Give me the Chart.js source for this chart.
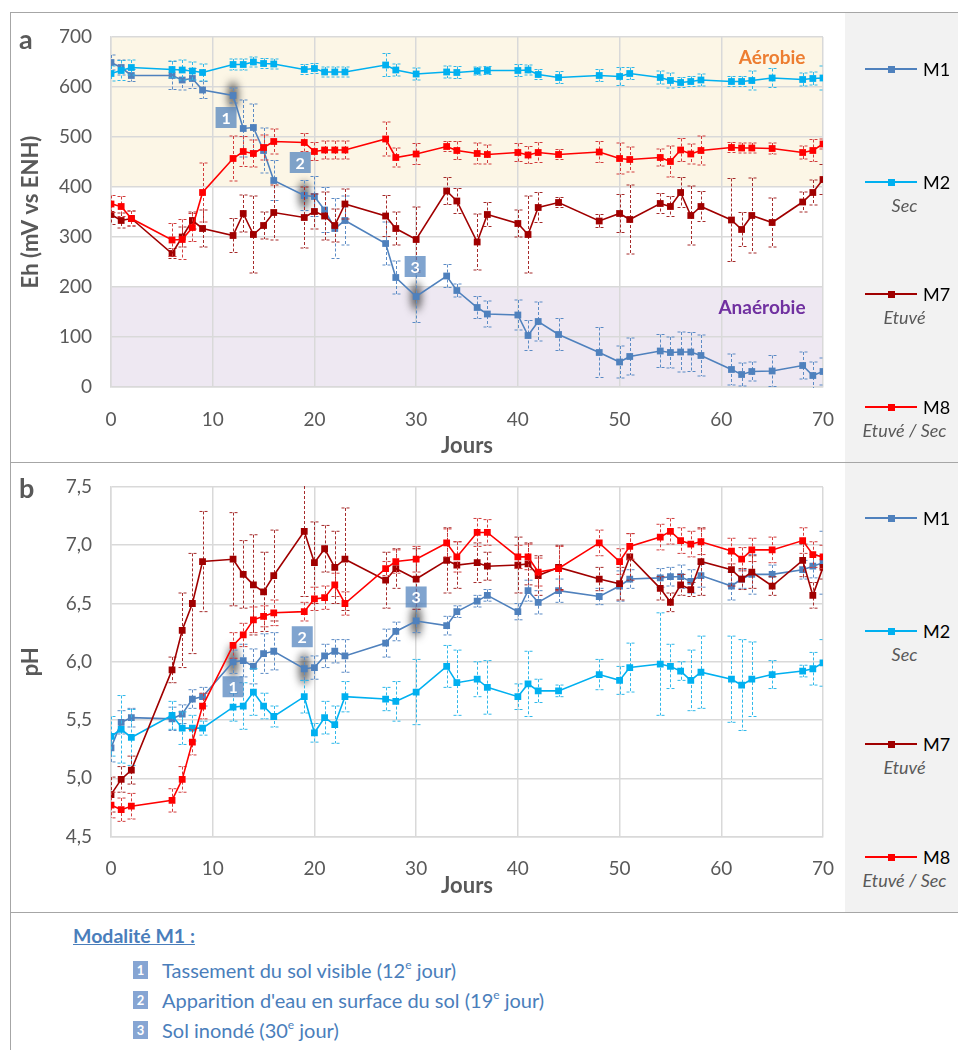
<!DOCTYPE html>
<html lang="fr"><head><meta charset="utf-8"><title>Eh et pH</title>
<script src="https://cdn.jsdelivr.net/npm/chart.js@4.4.1/dist/chart.umd.min.js"></script>
<style>
*{box-sizing:border-box}
html,body{margin:0;padding:0;background:#fff}
body{position:relative;width:958px;height:1050px;overflow:hidden;font-family:Lato,"Open Sans",sans-serif}
.hl{position:absolute;height:1px;background:#a6a6a6}
.vl{position:absolute;width:1px;background:#a6a6a6}
#legpanel{position:absolute;left:845px;top:13px;width:113px;height:899px;background:#f2f2f2}
canvas{position:absolute}
.letter{position:absolute;font-weight:bold;font-size:27px;color:#595959;line-height:30px}
.lg-line{position:absolute;height:2px;width:52px}
.lg-mk{position:absolute;width:7px;height:7px}
.lg-name{position:absolute;font-size:18px;color:#000;line-height:22px}
.lg-sub{position:absolute;font-size:18px;font-style:italic;color:#595959;line-height:22px;width:113px;text-align:center}
.note-title{position:absolute;left:73px;top:925px;font-weight:bold;font-size:19.5px;color:#4a7ebb;text-decoration:underline;line-height:22px}
.nb{position:absolute;left:133px;width:15px;height:18px;background:#86a5d3;color:#fff;font-weight:bold;font-size:13px;line-height:18px;text-align:center}
.nt{position:absolute;left:162px;font-size:20px;color:#4a7ebb;line-height:22px;white-space:nowrap}
.nt sup{font-size:12px;line-height:0;position:relative;top:-1px}
</style></head><body>
<div id="legpanel"></div>
<canvas id="c1" width="835" height="450" style="left:10px;top:12px"></canvas>
<canvas id="c2" width="835" height="450" style="left:10px;top:462px"></canvas>
<div class="hl" style="left:10px;top:12px;width:948px"></div>
<div class="hl" style="left:10px;top:462px;width:948px"></div>
<div class="hl" style="left:10px;top:912px;width:948px"></div>
<div class="vl" style="left:10px;top:12px;height:1038px"></div>
<div class="letter" style="left:19px;top:24px">a</div>
<div class="letter" style="left:19px;top:473px">b</div>
<div id="legend"></div>
<div class="note-title">Modalité M1 :</div>
<div id="notes"></div>
<script>
// ---------------- DATA ----------------
const DAYS = [0,1,2,6,7,8,9,12,13,14,15,16,19,20,21,22,23,27,28,30,33,34,36,37,40,41,42,44,48,50,51,54,55,56,57,58,61,62,63,65,68,69,70];
const SERIES_NAMES = ['M1','M2','M7','M8'];
const SERIES_SUBTITLES = ['', 'Sec', 'Etuvé', 'Etuvé / Sec'];

// Eh (mV vs ENH)
const EH_M1 = [649,639,623,623,614,617,594,583,517,519,473,413,383,381,354,317,333,287,219,181,222,193,159,146,144,103,131,105,69,50,61,72,69,70,70,63,35,25,31,32,43,23,31];
const EH_M2 = [627,633,639,635,634,632,629,645,645,650,647,646,635,637,630,630,630,644,634,626,630,629,632,633,633,634,625,619,623,621,627,619,613,609,611,614,611,611,613,618,615,617,618];
const EH_M7 = [345,333,337,267,300,333,317,303,347,305,323,349,339,351,342,323,366,342,317,295,392,372,290,345,327,305,359,369,332,347,335,367,361,389,343,361,334,315,343,329,370,389,415];
const EH_M8 = [366,361,337,294,295,319,389,457,471,467,479,491,489,471,474,474,474,496,459,466,481,473,467,465,469,464,469,465,470,457,455,459,451,474,466,473,479,478,478,477,469,473,486];
const EH_M1_ERR = [15,15,12,28,20,20,17,15,57,47,45,40,30,40,45,60,49,43,33,52,23,13,22,26,30,30,39,32,50,32,37,33,31,40,39,41,31,23,19,31,27,27,27];
const EH_M2_ERR = [15,20,15,17,20,18,17,11,11,10,10,10,10,10,10,10,10,23,12,12,12,12,8,8,12,10,10,12,12,18,12,13,15,10,10,12,10,10,19,19,13,13,24];
const EH_M7_ERR = [20,15,15,10,20,17,37,34,37,77,27,55,61,35,48,33,30,41,33,65,27,25,56,24,27,77,30,10,13,38,69,20,20,30,59,30,83,34,75,49,20,25,30];
const EH_M8_ERR = [17,20,15,33,40,28,59,45,30,27,25,25,18,18,18,18,18,34,19,21,10,18,21,19,18,17,20,10,21,31,25,17,31,23,20,29,10,10,10,11,13,22,10];

// pH
const PH_M1 = [5.26,5.48,5.52,5.51,5.55,5.68,5.70,6.00,6.01,5.96,6.07,6.09,5.94,5.95,6.05,6.09,6.05,6.16,6.26,6.35,6.31,6.43,6.52,6.57,6.43,6.61,6.51,6.61,6.56,6.65,6.71,6.72,6.73,6.73,6.69,6.74,6.65,6.71,6.75,6.75,6.79,6.82,6.85];
const PH_M2 = [5.36,5.42,5.35,5.54,5.43,5.43,5.43,5.61,5.62,5.74,5.62,5.53,5.70,5.39,5.52,5.46,5.70,5.68,5.66,5.74,5.96,5.82,5.85,5.78,5.70,5.81,5.75,5.75,5.89,5.84,5.95,5.98,5.96,5.92,5.84,5.91,5.85,5.80,5.85,5.89,5.92,5.94,5.99];
const PH_M7 = [4.86,4.99,5.07,5.93,6.27,6.50,6.86,6.88,6.75,6.66,6.60,6.74,7.12,6.85,6.97,6.81,6.88,6.70,6.80,6.71,6.87,6.83,6.85,6.82,6.83,6.84,6.74,6.81,6.71,6.67,6.90,6.63,6.51,6.66,6.62,6.86,6.79,6.71,6.77,6.65,6.87,6.57,6.81];
const PH_M8 = [4.77,4.73,4.76,4.81,4.99,5.31,5.62,6.14,6.23,6.36,6.39,6.42,6.43,6.54,6.55,6.66,6.50,6.80,6.86,6.88,7.02,6.90,7.11,7.11,6.90,6.90,6.77,6.80,7.02,6.86,6.99,7.07,7.12,7.04,7.01,7.03,6.95,6.88,6.96,6.96,7.04,6.92,6.90];
const PH_M1_ERR = [0.12,0.1,0.08,0.1,0.08,0.08,0.08,0.1,0.14,0.15,0.17,0.16,0.1,0.1,0.1,0.1,0.14,0.12,0.08,0.1,0.08,0.05,0.05,0.05,0.07,0.09,0.1,0.1,0.07,0.13,0.08,0.08,0.08,0.1,0.1,0.1,0.12,0.08,0.17,0.08,0.08,0.1,0.27];
const PH_M2_ERR = [0.17,0.29,0.24,0.12,0.14,0.11,0.06,0.12,0.2,0.2,0.11,0.09,0.14,0.08,0.14,0.16,0.13,0.1,0.17,0.28,0.18,0.28,0.15,0.23,0.11,0.28,0.1,0.05,0.13,0.12,0.21,0.44,0.19,0.08,0.26,0.31,0.37,0.39,0.32,0.12,0.05,0.14,0.2];
const PH_M7_ERR = [0.15,0.11,0.12,0.11,0.32,0.43,0.43,0.40,0.29,0.43,0.34,0.39,0.56,0.35,0.2,0.31,0.44,0.24,0.17,0.26,0.28,0.2,0.17,0.12,0.24,0.18,0.17,0.19,0.1,0.14,0.2,0.1,0.08,0.09,0.06,0.29,0.14,0.09,0.14,0.08,0.14,0.11,0.1];
const PH_M8_ERR = [0.11,0.1,0.11,0.1,0.11,0.11,0.11,0.11,0.1,0.11,0.09,0.11,0.08,0.1,0.1,0.1,0.1,0.06,0.1,0.11,0.12,0.13,0.12,0.11,0.1,0.11,0.12,0.19,0.11,0.11,0.11,0.11,0.11,0.11,0.11,0.11,0.11,0.1,0.1,0.11,0.11,0.11,0.1];

// axes
const DAY_RANGE = [0, 70, 10];
const EH_RANGE = [0, 700, 100];
const PH_RANGE = [4.5, 7.5, 0.5];
// redox zones (mV)
const AEROBIC_ZONE = [400, 700];
const ANAEROBIC_ZONE = [0, 200];
const ZONE_LABELS = ['Aérobie', 'Anaérobie'];
const ZONE_LABEL_POS = [[65, 659], [64, 159]]; // [day, mV]
// M1 events
const EVENT_DAYS = [12, 19, 30];
const EVENT_LABELS = ['1', '2', '3'];
const EVENT_TEXTS = [
  ['Tassement du sol visible (12', 'e', ' jour)'],
  ["Apparition d'eau en surface du sol (19", 'e', ' jour)'],
  ['Sol inondé (30', 'e', ' jour)']
];

// ---------------- STYLE ----------------
const COLORS = ['#4f81bd', '#00b0f0', '#a00000', '#ff0000'];
const ERR_COLORS = ['#5b8bc5', '#2fb8ea', '#a52a2a', '#d23c3c'];
const TICK_COLOR = '#595959';
const GRID_COLOR = '#d9d9d9';
Chart.defaults.font.family = 'Lato, "Open Sans", sans-serif';

function errPlugin(cfg) {
  return {
    id: 'errs',
    beforeDraw(chart) {
      const {ctx, chartArea: a, scales: {y}} = chart;
      (cfg.bands || []).forEach(b => {
        const y1 = y.getPixelForValue(b.range[1]), y2 = y.getPixelForValue(b.range[0]);
        ctx.save(); ctx.fillStyle = b.color;
        ctx.fillRect(a.left, y1, a.right - a.left, y2 - y1);
        ctx.restore();
      });
    },
    beforeDatasetsDraw(chart) {
      const {ctx, chartArea: a, scales: {x, y}} = chart;
      (cfg.bandLabels || []).forEach(l => {
        ctx.save();
        ctx.font = 'bold 19px Lato, sans-serif';
        ctx.fillStyle = l.color; ctx.textAlign = 'center'; ctx.textBaseline = 'middle';
        ctx.fillText(l.text, x.getPixelForValue(l.pos[0]), y.getPixelForValue(l.pos[1]));
        ctx.restore();
      });
      const m1 = cfg.series[0];
      ctx.save();
      ctx.beginPath(); ctx.rect(a.left, a.top, a.right - a.left, a.bottom - a.top); ctx.clip();
      ctx.filter = 'blur(4px)';
      EVENT_DAYS.forEach(d => {
        const i = DAYS.indexOf(d);
        const px = x.getPixelForValue(d), py = y.getPixelForValue(m1[i]);
        ctx.fillStyle = 'rgba(45,45,45,0.8)';
        ctx.beginPath(); ctx.ellipse(px, py, 5, cfg.glowRy, 0, 0, Math.PI * 2); ctx.fill();
      });
      ctx.restore();
    },
    beforeDatasetDraw(chart, args) {
      const k = args.index;
      const {ctx, chartArea: a, scales: {x, y}} = chart;
      const vals = cfg.series[k], errs = cfg.errors[k];
      ctx.save();
      ctx.beginPath(); ctx.rect(a.left, a.top - 1, a.right - a.left, a.bottom - a.top + 2); ctx.clip();
      ctx.strokeStyle = ERR_COLORS[k]; ctx.lineWidth = 1; ctx.setLineDash([3, 2]);
      DAYS.forEach((d, i) => {
        const px = Math.round(x.getPixelForValue(d)) + 0.5;
        const yt = y.getPixelForValue(vals[i] + errs[i]);
        const yb = y.getPixelForValue(vals[i] - errs[i]);
        ctx.beginPath();
        ctx.moveTo(px, yt); ctx.lineTo(px, yb);
        ctx.moveTo(px - 4, yt); ctx.lineTo(px + 4, yt);
        ctx.moveTo(px - 4, yb); ctx.lineTo(px + 4, yb);
        ctx.stroke();
      });
      ctx.restore();
    },
    afterDatasetsDraw(chart) {
      const {ctx, scales: {x, y}} = chart;
      const m1 = cfg.series[0];
      EVENT_DAYS.forEach((d, k) => {
        const i = DAYS.indexOf(d);
        const cx = x.getPixelForValue(d) + cfg.boxOffsets[k][0];
        const cy = y.getPixelForValue(m1[i]) + cfg.boxOffsets[k][1];
        ctx.save();
        ctx.fillStyle = 'rgba(79,129,189,0.72)';
        ctx.fillRect(cx - 10.5, cy - 10.5, 21, 21);
        ctx.fillStyle = '#fff'; ctx.font = 'bold 16px Lato, sans-serif';
        ctx.textAlign = 'center'; ctx.textBaseline = 'middle';
        ctx.fillText(EVENT_LABELS[k], cx, cy + 1);
        ctx.restore();
      });
    }
  };
}

function buildChart(id, cfg) {
  const datasets = cfg.series.map((vals, k) => ({
    label: SERIES_NAMES[k],
    data: DAYS.map((d, i) => ({x: d, y: vals[i]})),
    borderColor: COLORS[k], backgroundColor: COLORS[k],
    borderWidth: 1.6, pointStyle: 'rect', pointRadius: 4.8, pointBorderWidth: 0,
    pointHoverRadius: 4.8, pointHoverBorderWidth: 0, tension: 0, order: 4 - k
  }));
  return new Chart(document.getElementById(id), {
    type: 'line',
    data: {datasets},
    options: {
      responsive: false, animation: false, devicePixelRatio: 1,
      layout: {autoPadding: false, padding: {left: 0, top: cfg.padTop, right: 22, bottom: 0}},
      plugins: {legend: {display: false}, tooltip: {enabled: false}},
      scales: {
        x: {
          type: 'linear', min: DAY_RANGE[0], max: DAY_RANGE[1],
          ticks: {stepSize: DAY_RANGE[2], color: TICK_COLOR, font: {size: 19}, padding: 21, maxRotation: 0},
          grid: {color: GRID_COLOR, lineWidth: 1.5, drawTicks: false},
          border: {color: GRID_COLOR, width: 1.5},
          title: {display: true, text: 'Jours', color: TICK_COLOR, font: {size: 22, weight: 'bold'}, padding: {top: 0, bottom: cfg.xTitlePad}},
          afterFit: s => { s.height = cfg.xHeight; s.paddingLeft = 0; s.paddingRight = 0; }
        },
        y: {
          type: 'linear', min: cfg.yRange[0], max: cfg.yRange[1],
          ticks: {stepSize: cfg.yRange[2], color: TICK_COLOR, font: {size: 19}, padding: 19, callback: cfg.fmt},
          grid: {color: GRID_COLOR, lineWidth: 1.5, drawTicks: false},
          border: {color: GRID_COLOR, width: 1.5},
          title: {display: true, text: cfg.yTitle, color: TICK_COLOR, font: {size: 22, weight: 'bold'}, padding: {top: 8, bottom: 0}},
          afterFit: s => { s.width = 101; s.paddingTop = 0; s.paddingBottom = 0; }
        }
      }
    },
    plugins: [errPlugin(cfg)]
  });
}

buildChart('c1', {
  series: [EH_M1, EH_M2, EH_M7, EH_M8],
  errors: [EH_M1_ERR, EH_M2_ERR, EH_M7_ERR, EH_M8_ERR],
  yRange: EH_RANGE, yTitle: 'Eh (mV vs ENH)', fmt: v => String(v),
  padTop: 25, xHeight: 75, xTitlePad: 3,
  bands: [{range: AEROBIC_ZONE, color: '#fcf6e6'}, {range: ANAEROBIC_ZONE, color: '#eee8f2'}],
  bandLabels: [{text: ZONE_LABELS[0], pos: ZONE_LABEL_POS[0], color: '#ed7d31'}, {text: ZONE_LABELS[1], pos: ZONE_LABEL_POS[1], color: '#7030a0'}],
  glowRy: 14,
  boxOffsets: [[-7, 22], [-4, -33], [-1, -30]]
});
buildChart('c2', {
  series: [PH_M1, PH_M2, PH_M7, PH_M8],
  errors: [PH_M1_ERR, PH_M2_ERR, PH_M7_ERR, PH_M8_ERR],
  yRange: PH_RANGE, yTitle: 'pH', fmt: v => Number(v).toFixed(1).replace('.', ','),
  padTop: 25, xHeight: 75.5, xTitlePad: 13,
  bands: [], bandLabels: [],
  glowRy: 16,
  boxOffsets: [[0, 25], [-2, -32], [0, -24]]
});

// ---------------- legends (HTML) ----------------
const LEGEND_ROWS = [[69, 182, 294, 407], [518, 631, 744, 857]];
let lh = '';
LEGEND_ROWS.forEach(rows => rows.forEach((yy, k) => {
  lh += `<div class="lg-line" style="left:865px;top:${yy - 1}px;background:${COLORS[k]}"></div>`;
  lh += `<div class="lg-mk" style="left:888px;top:${yy - 3.5}px;background:${COLORS[k]}"></div>`;
  lh += `<div class="lg-name" style="left:923px;top:${yy - 11}px">${SERIES_NAMES[k]}</div>`;
  if (SERIES_SUBTITLES[k]) lh += `<div class="lg-sub" style="left:848px;top:${yy + 12}px">${SERIES_SUBTITLES[k]}</div>`;
}));
document.getElementById('legend').innerHTML = lh;

const NOTE_Y = [970, 1000, 1030];
let nh = '';
EVENT_TEXTS.forEach((t, k) => {
  nh += `<div class="nb" style="top:${NOTE_Y[k] - 9}px">${EVENT_LABELS[k]}</div>`;
  nh += `<div class="nt" style="top:${NOTE_Y[k] - 11}px">${t[0]}<sup>${t[1]}</sup>${t[2]}</div>`;
});
document.getElementById('notes').innerHTML = nh;
</script>
</body></html>
